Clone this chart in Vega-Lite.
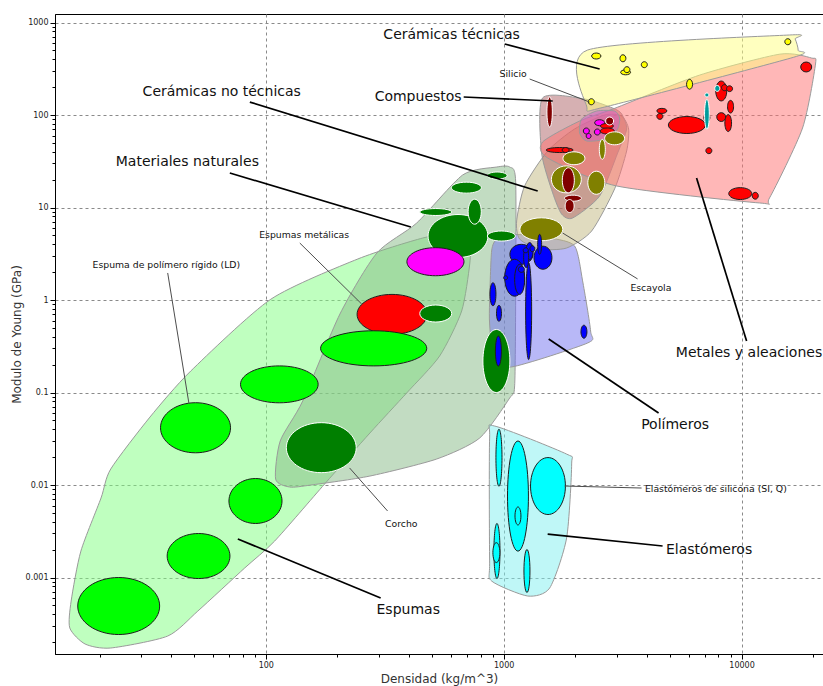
{
  "$schema": "https://vega.github.io/schema/vega-lite/v6.json",
  "width": 768,
  "height": 640,
  "autosize": {"type": "none"},
  "padding": {"left": 55, "top": 14, "right": 0, "bottom": 32},
  "background": "#ffffff",
  "params": [
    {"name": "kx", "expr": "width / (log(22000 / 13) / LN10)"},
    {"name": "ky", "expr": "height / (log(1236 / 0.000149) / LN10)"}
  ],
  "datasets": {
    "envolventes": [
      {"grupo": "Espumas", "k": 1, "d": 15.0, "E": 0.000285},
      {"grupo": "Espumas", "k": 2, "d": 15.2, "E": 0.000557},
      {"grupo": "Espumas", "k": 3, "d": 16.7, "E": 0.00193},
      {"grupo": "Espumas", "k": 4, "d": 20.3, "E": 0.00724},
      {"grupo": "Espumas", "k": 5, "d": 22.3, "E": 0.0149},
      {"grupo": "Espumas", "k": 6, "d": 32.6, "E": 0.0543},
      {"grupo": "Espumas", "k": 7, "d": 48.4, "E": 0.171},
      {"grupo": "Espumas", "k": 8, "d": 105, "E": 1.02},
      {"grupo": "Espumas", "k": 9, "d": 244, "E": 2.78},
      {"grupo": "Espumas", "k": 10, "d": 457, "E": 4.68},
      {"grupo": "Espumas", "k": 11, "d": 641, "E": 5.30},
      {"grupo": "Espumas", "k": 12, "d": 720, "E": 4.34},
      {"grupo": "Espumas", "k": 13, "d": 720, "E": 2.45},
      {"grupo": "Espumas", "k": 14, "d": 666, "E": 0.761},
      {"grupo": "Espumas", "k": 15, "d": 538, "E": 0.248},
      {"grupo": "Espumas", "k": 16, "d": 391, "E": 0.0988},
      {"grupo": "Espumas", "k": 17, "d": 274, "E": 0.0365},
      {"grupo": "Espumas", "k": 18, "d": 177, "E": 0.0103},
      {"grupo": "Espumas", "k": 19, "d": 109, "E": 0.00248},
      {"grupo": "Espumas", "k": 20, "d": 81.6, "E": 0.00127},
      {"grupo": "Espumas", "k": 21, "d": 51.8, "E": 0.000434},
      {"grupo": "Espumas", "k": 22, "d": 38.7, "E": 0.000233},
      {"grupo": "Espumas", "k": 23, "d": 22.3, "E": 0.000173},
      {"grupo": "Espumas", "k": 24, "d": 17.4, "E": 0.000191},

      {"grupo": "Materiales naturales", "k": 1, "d": 935, "E": 27.4},
      {"grupo": "Materiales naturales", "k": 2, "d": 1060, "E": 27.4},
      {"grupo": "Materiales naturales", "k": 3, "d": 1123, "E": 19.3},
      {"grupo": "Materiales naturales", "k": 4, "d": 1123, "E": 0.975},
      {"grupo": "Materiales naturales", "k": 5, "d": 1112, "E": 0.118},
      {"grupo": "Materiales naturales", "k": 6, "d": 1060, "E": 0.0872},
      {"grupo": "Materiales naturales", "k": 7, "d": 793, "E": 0.0322},
      {"grupo": "Materiales naturales", "k": 8, "d": 523, "E": 0.0191},
      {"grupo": "Materiales naturales", "k": 9, "d": 274, "E": 0.0125},
      {"grupo": "Materiales naturales", "k": 10, "d": 155, "E": 0.01},
      {"grupo": "Materiales naturales", "k": 11, "d": 126, "E": 0.00952},
      {"grupo": "Materiales naturales", "k": 12, "d": 110, "E": 0.0116},
      {"grupo": "Materiales naturales", "k": 13, "d": 115, "E": 0.0299},
      {"grupo": "Materiales naturales", "k": 14, "d": 143, "E": 0.0809},
      {"grupo": "Materiales naturales", "k": 15, "d": 205, "E": 0.706},
      {"grupo": "Materiales naturales", "k": 16, "d": 293, "E": 3.22},
      {"grupo": "Materiales naturales", "k": 17, "d": 431, "E": 6.80},
      {"grupo": "Materiales naturales", "k": 18, "d": 673, "E": 22.5},

      {"grupo": "Polímeros", "k": 1, "d": 935, "E": 4.56},
      {"grupo": "Polímeros", "k": 2, "d": 1060, "E": 5.17},
      {"grupo": "Polímeros", "k": 3, "d": 1561, "E": 4.68},
      {"grupo": "Polímeros", "k": 4, "d": 1987, "E": 3.84},
      {"grupo": "Polímeros", "k": 5, "d": 2147, "E": 1.61},
      {"grupo": "Polímeros", "k": 6, "d": 2320, "E": 0.462},
      {"grupo": "Polímeros", "k": 7, "d": 2254, "E": 0.343},
      {"grupo": "Polímeros", "k": 8, "d": 1080, "E": 0.189},
      {"grupo": "Polímeros", "k": 9, "d": 908, "E": 0.248},
      {"grupo": "Polímeros", "k": 10, "d": 873, "E": 0.550},
      {"grupo": "Polímeros", "k": 11, "d": 873, "E": 0.975},
      {"grupo": "Polímeros", "k": 12, "d": 890, "E": 3.39},

      {"grupo": "Elastómeros", "k": 1, "d": 873, "E": 0.0322},
      {"grupo": "Elastómeros", "k": 2, "d": 917, "E": 0.0434},
      {"grupo": "Elastómeros", "k": 3, "d": 1839, "E": 0.0216},
      {"grupo": "Elastómeros", "k": 4, "d": 1931, "E": 0.0169},
      {"grupo": "Elastómeros", "k": 5, "d": 1839, "E": 0.00267},
      {"grupo": "Elastómeros", "k": 6, "d": 1561, "E": 0.00077},
      {"grupo": "Elastómeros", "k": 7, "d": 1261, "E": 0.000631},
      {"grupo": "Elastómeros", "k": 8, "d": 890, "E": 0.000917},
      {"grupo": "Elastómeros", "k": 9, "d": 873, "E": 0.00151},

      {"grupo": "Cerámicas no técnicas", "k": 1, "d": 1531, "E": 40.8},
      {"grupo": "Cerámicas no técnicas", "k": 2, "d": 1987, "E": 70.6},
      {"grupo": "Cerámicas no técnicas", "k": 3, "d": 2657, "E": 100},
      {"grupo": "Cerámicas no técnicas", "k": 4, "d": 3132, "E": 97.5},
      {"grupo": "Cerámicas no técnicas", "k": 5, "d": 3352, "E": 70.6},
      {"grupo": "Cerámicas no técnicas", "k": 6, "d": 3288, "E": 40.8},
      {"grupo": "Cerámicas no técnicas", "k": 7, "d": 2927, "E": 15.9},
      {"grupo": "Cerámicas no técnicas", "k": 8, "d": 2343, "E": 5.57},
      {"grupo": "Cerámicas no técnicas", "k": 9, "d": 1839, "E": 3.65},
      {"grupo": "Cerámicas no técnicas", "k": 10, "d": 1417, "E": 3.56},
      {"grupo": "Cerámicas no técnicas", "k": 11, "d": 1167, "E": 4.56},
      {"grupo": "Cerámicas no técnicas", "k": 12, "d": 1134, "E": 7.15},
      {"grupo": "Cerámicas no técnicas", "k": 13, "d": 1225, "E": 17.1},

      {"grupo": "Compuestos", "k": 1, "d": 1458, "E": 153},
      {"grupo": "Compuestos", "k": 2, "d": 2189, "E": 149},
      {"grupo": "Compuestos", "k": 3, "d": 2871, "E": 119},
      {"grupo": "Compuestos", "k": 4, "d": 3132, "E": 103},
      {"grupo": "Compuestos", "k": 5, "d": 3288, "E": 70.6},
      {"grupo": "Compuestos", "k": 6, "d": 3013, "E": 38.8},
      {"grupo": "Compuestos", "k": 7, "d": 2532, "E": 13.3},
      {"grupo": "Compuestos", "k": 8, "d": 1949, "E": 7.70},
      {"grupo": "Compuestos", "k": 9, "d": 1752, "E": 8.51},
      {"grupo": "Compuestos", "k": 10, "d": 1607, "E": 14.4},
      {"grupo": "Compuestos", "k": 11, "d": 1444, "E": 38.8},

      {"grupo": "Metales", "k": 1, "d": 1458, "E": 51.1},
      {"grupo": "Metales", "k": 2, "d": 2086, "E": 86.1},
      {"grupo": "Metales", "k": 3, "d": 2927, "E": 118},
      {"grupo": "Metales", "k": 4, "d": 6661, "E": 270},
      {"grupo": "Metales", "k": 5, "d": 14500, "E": 455},
      {"grupo": "Metales", "k": 6, "d": 19690, "E": 413},
      {"grupo": "Metales", "k": 7, "d": 20460, "E": 356},
      {"grupo": "Metales", "k": 8, "d": 18050, "E": 72.4},
      {"grupo": "Metales", "k": 9, "d": 13110, "E": 12.7},
      {"grupo": "Metales", "k": 10, "d": 11900, "E": 11.2},
      {"grupo": "Metales", "k": 11, "d": 2984, "E": 17.1},
      {"grupo": "Metales", "k": 12, "d": 1531, "E": 34.3},

      {"grupo": "Cerámicas técnicas", "k": 1, "d": 2233, "E": 125},
      {"grupo": "Cerámicas técnicas", "k": 2, "d": 2254, "E": 504},
      {"grupo": "Cerámicas técnicas", "k": 3, "d": 15910, "E": 733},
      {"grupo": "Cerámicas técnicas", "k": 4, "d": 16800, "E": 663},
      {"grupo": "Cerámicas técnicas", "k": 5, "d": 17300, "E": 500},
      {"grupo": "Cerámicas técnicas", "k": 6, "d": 16500, "E": 420},
      {"grupo": "Cerámicas técnicas", "k": 7, "d": 2657, "E": 122},

      {"grupo": "Vidrios", "k": 1, "d": 2127, "E": 90.5},
      {"grupo": "Vidrios", "k": 2, "d": 2459, "E": 110.5},
      {"grupo": "Vidrios", "k": 3, "d": 2927, "E": 110.5},
      {"grupo": "Vidrios", "k": 4, "d": 3073, "E": 92.8},
      {"grupo": "Vidrios", "k": 5, "d": 3013, "E": 70.6},
      {"grupo": "Vidrios", "k": 6, "d": 2709, "E": 55.0},
      {"grupo": "Vidrios", "k": 7, "d": 2233, "E": 52.4},
      {"grupo": "Vidrios", "k": 8, "d": 2086, "E": 63.9}
    ],
    "materiales": [
      {"familia": "espumas metálicas", "dlo": 242, "dhi": 476, "elo": 0.426, "ehi": 1.15},
      {"familia": "espumas", "dlo": 16.2, "dhi": 35.8, "elo": 0.000242, "ehi": 0.001},
      {"familia": "espumas", "dlo": 38.5, "dhi": 70.7, "elo": 0.000975, "ehi": 0.00299},
      {"familia": "espumas", "dlo": 70, "dhi": 117, "elo": 0.00384, "ehi": 0.01175},
      {"familia": "espumas", "dlo": 36.1, "dhi": 71.1, "elo": 0.0223, "ehi": 0.0776},
      {"familia": "espumas", "dlo": 78.3, "dhi": 166, "elo": 0.0774, "ehi": 0.194},
      {"familia": "espumas", "dlo": 170, "dhi": 475, "elo": 0.194, "ehi": 0.465},
      {"familia": "naturales", "dlo": 122, "dhi": 240, "elo": 0.0136, "ehi": 0.0472},
      {"familia": "naturales", "dlo": 481, "dhi": 859, "elo": 2.88, "ehi": 8.40},
      {"familia": "naturales", "dlo": 603, "dhi": 806, "elo": 14.3, "ehi": 18.8},
      {"familia": "naturales", "dlo": 852, "dhi": 1034, "elo": 20.3, "ehi": 24.2},
      {"familia": "naturales", "dlo": 444, "dhi": 605, "elo": 8.20, "ehi": 9.75},
      {"familia": "naturales", "dlo": 709, "dhi": 805, "elo": 6.60, "ehi": 12.3},
      {"familia": "naturales", "dlo": 854, "dhi": 1120, "elo": 4.34, "ehi": 5.57},
      {"familia": "naturales", "dlo": 444, "dhi": 605, "elo": 0.578, "ehi": 0.883},
      {"familia": "naturales", "dlo": 818, "dhi": 1062, "elo": 0.1, "ehi": 0.48},
      {"familia": "vidrios", "dlo": 392, "dhi": 681, "elo": 1.83, "ehi": 3.68},
      {"familia": "elastómeros", "dlo": 928, "dhi": 984, "elo": 0.0097, "ehi": 0.0401},
      {"familia": "elastómeros", "dlo": 1038, "dhi": 1271, "elo": 0.00193, "ehi": 0.0299},
      {"familia": "elastómeros", "dlo": 1297, "dhi": 1818, "elo": 0.0048, "ehi": 0.0198},
      {"familia": "elastómeros", "dlo": 1116, "dhi": 1182, "elo": 0.0037, "ehi": 0.00579},
      {"familia": "elastómeros", "dlo": 910, "dhi": 965, "elo": 0.000975, "ehi": 0.00384},
      {"familia": "elastómeros", "dlo": 901, "dhi": 964, "elo": 0.00145, "ehi": 0.00238},
      {"familia": "elastómeros", "dlo": 1217, "dhi": 1290, "elo": 0.000688, "ehi": 0.00201},
      {"familia": "vidrios", "dlo": 2162, "dhi": 2292, "elo": 62.3, "ehi": 72.4},
      {"familia": "vidrios", "dlo": 2222, "dhi": 2331, "elo": 55.7, "ehi": 63.1},
      {"familia": "vidrios", "dlo": 2405, "dhi": 2549, "elo": 60.8, "ehi": 70.6},
      {"familia": "vidrios", "dlo": 2412, "dhi": 2657, "elo": 76.6, "ehi": 89.0},
      {"familia": "metales", "dlo": 17730, "dhi": 19720, "elo": 292, "ehi": 374},
      {"familia": "metales", "dlo": 7792, "dhi": 8665, "elo": 142, "ehi": 233},
      {"familia": "metales", "dlo": 8241, "dhi": 8733, "elo": 183, "ehi": 213},
      {"familia": "metales", "dlo": 8650, "dhi": 9168, "elo": 179, "ehi": 207},
      {"familia": "metales", "dlo": 8733, "dhi": 9257, "elo": 105, "ehi": 144},
      {"familia": "metales", "dlo": 7867, "dhi": 8582, "elo": 85.1, "ehi": 106},
      {"familia": "metales", "dlo": 8508, "dhi": 9078, "elo": 66.3, "ehi": 101},
      {"familia": "metales", "dlo": 6944, "dhi": 7359, "elo": 84.7, "ehi": 103},
      {"familia": "metales", "dlo": 4924, "dhi": 7046, "elo": 63.1, "ehi": 96.3},
      {"familia": "metales", "dlo": 4406, "dhi": 4854, "elo": 104, "ehi": 118},
      {"familia": "metales", "dlo": 4406, "dhi": 4670, "elo": 89.8, "ehi": 104},
      {"familia": "metales", "dlo": 7079, "dhi": 7503, "elo": 38.2, "ehi": 44.3},
      {"familia": "metales", "dlo": 8835, "dhi": 11040, "elo": 12.2, "ehi": 16.4},
      {"familia": "metales", "dlo": 11090, "dhi": 11760, "elo": 12.3, "ehi": 14.6},
      {"familia": "metales", "dlo": 2551, "dhi": 2893, "elo": 71.5, "ehi": 80.9},
      {"familia": "metales", "dlo": 2549, "dhi": 2918, "elo": 62.3, "ehi": 72.4},
      {"familia": "metales", "dlo": 1509, "dhi": 1959, "elo": 39.3, "ehi": 44.5},
      {"familia": "metales", "dlo": 1761, "dhi": 1885, "elo": 39.3, "ehi": 44.5},
      {"familia": "aleaciones", "dlo": 7716, "dhi": 8098, "elo": 180, "ehi": 209},
      {"familia": "aleaciones", "dlo": 7011, "dhi": 7289, "elo": 157, "ehi": 173},
      {"familia": "aleaciones", "dlo": 6990, "dhi": 7318, "elo": 70.1, "ehi": 148},
      {"familia": "cerámicas no técnicas", "dlo": 1170, "dhi": 1773, "elo": 4.37, "ehi": 7.74},
      {"familia": "cerámicas no técnicas", "dlo": 1587, "dhi": 2121, "elo": 14.4, "ehi": 28.2},
      {"familia": "cerámicas no técnicas", "dlo": 2258, "dhi": 2662, "elo": 13.9, "ehi": 24.7},
      {"familia": "cerámicas no técnicas", "dlo": 1775, "dhi": 2196, "elo": 29.0, "ehi": 40.0},
      {"familia": "cerámicas no técnicas", "dlo": 2524, "dhi": 2675, "elo": 33.2, "ehi": 54.6},
      {"familia": "cerámicas no técnicas", "dlo": 2657, "dhi": 3224, "elo": 47.6, "ehi": 65.8},
      {"familia": "compuestos", "dlo": 1520, "dhi": 1602, "elo": 74.2, "ehi": 157},
      {"familia": "compuestos", "dlo": 1764, "dhi": 1982, "elo": 14.4, "ehi": 26.9},
      {"familia": "compuestos", "dlo": 1801, "dhi": 2123, "elo": 11.7, "ehi": 13.6},
      {"familia": "compuestos", "dlo": 1813, "dhi": 1978, "elo": 8.83, "ehi": 12.2},
      {"familia": "compuestos", "dlo": 2683, "dhi": 2899, "elo": 78.0, "ehi": 95.1},
      {"familia": "polímeros", "dlo": 1341, "dhi": 1596, "elo": 2.15, "ehi": 3.82},
      {"familia": "polímeros", "dlo": 1062, "dhi": 1327, "elo": 2.43, "ehi": 4.00},
      {"familia": "polímeros", "dlo": 1010, "dhi": 1225, "elo": 1.10, "ehi": 2.76},
      {"familia": "polímeros", "dlo": 1112, "dhi": 1225, "elo": 1.15, "ehi": 2.43},
      {"familia": "polímeros", "dlo": 1390, "dhi": 1444, "elo": 3.12, "ehi": 5.13},
      {"familia": "polímeros", "dlo": 1243, "dhi": 1330, "elo": 2.74, "ehi": 4.18},
      {"familia": "polímeros", "dlo": 1237, "dhi": 1311, "elo": 0.227, "ehi": 2.54},
      {"familia": "polímeros", "dlo": 1213, "dhi": 1274, "elo": 2.24, "ehi": 3.68},
      {"familia": "polímeros", "dlo": 1208, "dhi": 1269, "elo": 3.24, "ehi": 3.67},
      {"familia": "polímeros", "dlo": 1289, "dhi": 1352, "elo": 3.33, "ehi": 3.86},
      {"familia": "polímeros", "dlo": 1153, "dhi": 1222, "elo": 1.99, "ehi": 2.31},
      {"familia": "polímeros", "dlo": 876, "dhi": 928, "elo": 0.866, "ehi": 1.54},
      {"familia": "polímeros", "dlo": 933, "dhi": 979, "elo": 0.588, "ehi": 0.876},
      {"familia": "polímeros", "dlo": 923, "dhi": 978, "elo": 0.193, "ehi": 0.408},
      {"familia": "polímeros", "dlo": 2113, "dhi": 2239, "elo": 0.386, "ehi": 0.534},
      {"familia": "polímeros", "dlo": 1000, "dhi": 1039, "elo": 1.66, "ehi": 1.83},
      {"familia": "cerámicas técnicas", "dlo": 2343, "dhi": 2564, "elo": 403, "ehi": 468},
      {"familia": "cerámicas técnicas", "dlo": 3082, "dhi": 3265, "elo": 376, "ehi": 448},
      {"familia": "cerámicas técnicas", "dlo": 3102, "dhi": 3417, "elo": 272, "ehi": 308},
      {"familia": "cerámicas técnicas", "dlo": 3203, "dhi": 3394, "elo": 287, "ehi": 333},
      {"familia": "cerámicas técnicas", "dlo": 3790, "dhi": 4017, "elo": 325, "ehi": 377},
      {"familia": "cerámicas técnicas", "dlo": 5874, "dhi": 6225, "elo": 190, "ehi": 243},
      {"familia": "cerámicas técnicas", "dlo": 15200, "dhi": 16110, "elo": 575, "ehi": 668},
      {"familia": "cerámicas técnicas", "dlo": 2269, "dhi": 2405, "elo": 129, "ehi": 150}
    ],
    "guias": [
      {"tipo": "principal", "d": 1010, "E": 586, "d2": 2532, "E2": 314},
      {"tipo": "principal", "d": 679, "E": 156.5, "d2": 1607, "E2": 141.7},
      {"tipo": "principal", "d": 85.7, "E": 138, "d2": 1390, "E2": 15.1},
      {"tipo": "principal", "d": 70.6, "E": 23.6, "d2": 407, "E2": 6.16},
      {"tipo": "principal", "d": 76.3, "E": 0.00261, "d2": 304, "E2": 0.0006},
      {"tipo": "principal", "d": 6470, "E": 20.8, "d2": 10500, "E2": 0.360},
      {"tipo": "principal", "d": 1546, "E": 0.379, "d2": 4480, "E2": 0.060},
      {"tipo": "principal", "d": 1531, "E": 0.00295, "d2": 4657, "E2": 0.00219},
      {"tipo": "secundaria", "d": 1286, "E": 245, "d2": 2298, "E2": 138},
      {"tipo": "secundaria", "d": 139, "E": 4.13, "d2": 253, "E2": 0.905},
      {"tipo": "secundaria", "d": 38.7, "E": 1.96, "d2": 47.5, "E2": 0.077},
      {"tipo": "secundaria", "d": 225, "E": 0.0153, "d2": 325, "E2": 0.00524},
      {"tipo": "secundaria", "d": 1770, "E": 5.30, "d2": 3656, "E2": 1.69},
      {"tipo": "secundaria", "d": 1804, "E": 0.00975, "d2": 3800, "E2": 0.00928}
    ],
    "etiquetas": [
      {"texto": "Cerámicas técnicas", "tipo": "principal", "d": 604, "E": 732},
      {"texto": "Compuestos", "tipo": "principal", "d": 437, "E": 156},
      {"texto": "Cerámicas no técnicas", "tipo": "principal", "d": 65.3, "E": 177},
      {"texto": "Materiales naturales", "tipo": "principal", "d": 46.8, "E": 31.0},
      {"texto": "Espumas", "tipo": "principal", "d": 397, "E": 0.000445},
      {"texto": "Metales y aleaciones", "tipo": "principal", "d": 10750, "E": 0.269},
      {"texto": "Polímeros", "tipo": "principal", "d": 5255, "E": 0.0445},
      {"texto": "Elastómeros", "tipo": "principal", "d": 7303, "E": 0.00197},
      {"texto": "Silicio", "tipo": "secundaria", "d": 1096, "E": 277},
      {"texto": "Espumas metálicas", "tipo": "secundaria", "d": 145, "E": 5.04},
      {"texto": "Espuma de polímero rígido (LD)", "tipo": "secundaria", "d": 38.2, "E": 2.39},
      {"texto": "Corcho", "tipo": "secundaria", "d": 371, "E": 0.00379},
      {"texto": "Escayola", "tipo": "secundaria", "d": 4158, "E": 1.36},
      {"texto": "Elastómeros de silicona (SI, Q)", "tipo": "secundaria", "d": 7798, "E": 0.00899}
    ]
  },
  "encoding": {
    "x": {
      "field": "d",
      "type": "quantitative",
      "title": "Densidad (kg/m^3)",
      "scale": {"type": "log", "domain": [13, 22000], "nice": false},
      "axis": {
        "values": [20, 30, 40, 50, 60, 70, 80, 90, 100, 200, 300, 400, 500, 600, 700, 800, 900, 1000, 2000, 3000, 4000, 5000, 6000, 7000, 8000, 9000, 10000, 20000],
        "labelExpr": "abs(log(datum.value) / LN10 - round(log(datum.value) / LN10)) < 0.000001 ? format(datum.value, '~g') : ''",
        "gridOpacity": {"condition": {"test": "abs(log(datum.value) / LN10 - round(log(datum.value) / LN10)) < 0.000001", "value": 1}, "value": 0},
        "tickSize": {"condition": {"test": "abs(log(datum.value) / LN10 - round(log(datum.value) / LN10)) < 0.000001", "value": 5}, "value": 3},
        "titlePadding": 4
      }
    },
    "y": {
      "field": "E",
      "type": "quantitative",
      "title": "Modulo de Young (GPa)",
      "scale": {"type": "log", "domain": [0.000149, 1236], "nice": false},
      "axis": {
        "values": [0.0002, 0.0003, 0.0004, 0.0005, 0.0006, 0.0007, 0.0008, 0.0009, 0.001, 0.002, 0.003, 0.004, 0.005, 0.006, 0.007, 0.008, 0.009, 0.01, 0.02, 0.03, 0.04, 0.05, 0.06, 0.07, 0.08, 0.09, 0.1, 0.2, 0.3, 0.4, 0.5, 0.6, 0.7, 0.8, 0.9, 1, 2, 3, 4, 5, 6, 7, 8, 9, 10, 20, 30, 40, 50, 60, 70, 80, 90, 100, 200, 300, 400, 500, 600, 700, 800, 900, 1000],
        "labelExpr": "abs(log(datum.value) / LN10 - round(log(datum.value) / LN10)) < 0.000001 ? format(datum.value, '~g') : ''",
        "gridOpacity": {"condition": {"test": "abs(log(datum.value) / LN10 - round(log(datum.value) / LN10)) < 0.000001", "value": 1}, "value": 0},
        "tickSize": {"condition": {"test": "abs(log(datum.value) / LN10 - round(log(datum.value) / LN10)) < 0.000001", "value": 5}, "value": 3},
        "titlePadding": 2
      }
    }
  },
  "layer": [
    {
      "data": {"name": "envolventes"},
      "mark": {"type": "line", "interpolate": "cardinal-closed", "tension": 0.3, "stroke": "#9a9a9a", "strokeWidth": 1, "fillOpacity": 0.5, "strokeJoin": "round"},
      "encoding": {
        "detail": {"field": "grupo", "type": "nominal"},
        "order": {"field": "k", "type": "quantitative"},
        "fill": {
          "field": "grupo",
          "type": "nominal",
          "legend": null,
          "scale": {
            "domain": ["Espumas", "Materiales naturales", "Polímeros", "Elastómeros", "Cerámicas no técnicas", "Compuestos", "Metales", "Cerámicas técnicas", "Vidrios"],
            "range": ["#80ff80", "#85b985", "#7272f0", "#80f0f0", "#c2b880", "#ad6165", "#ff7070", "#ffff80", "#d060c8"]
          }
        }
      }
    },
    {
      "data": {"name": "materiales"},
      "transform": [
        {"calculate": "sqrt(datum.dlo * datum.dhi)", "as": "d"},
        {"calculate": "sqrt(datum.elo * datum.ehi)", "as": "E"},
        {"calculate": "kx * log(datum.dhi / datum.dlo) / LN10", "as": "ancho"},
        {"calculate": "ky * log(datum.ehi / datum.elo) / LN10", "as": "alto"},
        {"calculate": "datum.alto / datum.ancho", "as": "r"},
        {"calculate": "datum.ancho * datum.ancho", "as": "area"},
        {"calculate": "'M-1,0C-1,' + (-0.5523 * datum.r) + ',-0.5523,' + (-datum.r) + ',0,' + (-datum.r) + 'C0.5523,' + (-datum.r) + ',1,' + (-0.5523 * datum.r) + ',1,0C1,' + (0.5523 * datum.r) + ',0.5523,' + datum.r + ',0,' + datum.r + 'C-0.5523,' + datum.r + ',-1,' + (0.5523 * datum.r) + ',-1,0Z'", "as": "forma"}
      ],
      "mark": {"type": "point", "filled": true, "opacity": 1, "fillOpacity": 1, "strokeOpacity": 1, "strokeWidth": 1},
      "encoding": {
        "shape": {"field": "forma", "type": "nominal", "scale": null},
        "size": {"field": "area", "type": "quantitative", "scale": null},
        "fill": {
          "field": "familia",
          "type": "nominal",
          "legend": null,
          "scale": {
            "domain": ["espumas", "espumas metálicas", "naturales", "vidrios", "polímeros", "elastómeros", "metales", "aleaciones", "cerámicas técnicas", "cerámicas no técnicas", "compuestos"],
            "range": ["#00ff00", "#ff0000", "#007f00", "#ff00ff", "#0000ff", "#00ffff", "#ff0000", "#009c9c", "#ffff00", "#808000", "#800000"]
          }
        },
        "stroke": {
          "field": "familia",
          "type": "nominal",
          "legend": null,
          "scale": {
            "domain": ["espumas", "espumas metálicas", "naturales", "vidrios", "polímeros", "elastómeros", "metales", "aleaciones", "cerámicas técnicas", "cerámicas no técnicas", "compuestos"],
            "range": ["#1e1e1e", "#1e1e1e", "#ffffff", "#1e1e1e", "#1e1e1e", "#1e1e1e", "#1e1e1e", "#ffffff", "#1e1e1e", "#ffffff", "#ffffff"]
          }
        }
      }
    },
    {
      "data": {"name": "guias"},
      "mark": {"type": "rule", "strokeCap": "butt"},
      "encoding": {
        "x2": {"field": "d2"},
        "y2": {"field": "E2"},
        "stroke": {"condition": {"test": "datum.tipo === 'principal'", "value": "#000000"}, "value": "#4d4d4d"},
        "strokeWidth": {"condition": {"test": "datum.tipo === 'principal'", "value": 1.7}, "value": 1}
      }
    },
    {
      "data": {"name": "etiquetas"},
      "mark": {"type": "text", "align": "center", "baseline": "middle", "font": "DejaVu Sans", "color": "#111111"},
      "encoding": {
        "text": {"field": "texto"},
        "size": {"condition": {"test": "datum.tipo === 'principal'", "value": 14}, "value": 9.3}
      }
    }
  ],
  "resolve": {"scale": {"fill": "independent", "stroke": "independent", "size": "independent"}},
  "config": {
    "view": {"stroke": "#000000", "strokeWidth": 1},
    "font": "DejaVu Sans",
    "axis": {
      "labelFont": "DejaVu Sans",
      "labelFontSize": 8,
      "labelColor": "#222222",
      "labelPadding": 2,
      "labelOverlap": false,
      "titleFont": "DejaVu Sans",
      "titleFontSize": 12,
      "titleFontWeight": "normal",
      "titleColor": "#333333",
      "domainColor": "#000000",
      "tickColor": "#000000",
      "gridColor": "#8a8a8a",
      "gridDash": [3, 3],
      "gridWidth": 1
    }
  }
}
